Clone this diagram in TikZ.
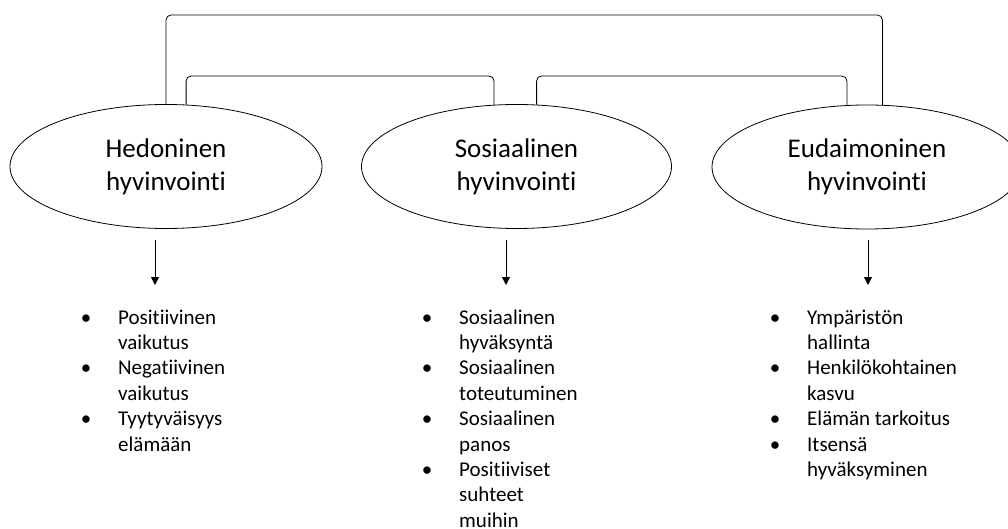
\documentclass[tikz,border=0pt]{standalone}
\usepackage{fontspec}
\setmainfont{Carlito}[Ligatures=NoCommon]
\usetikzlibrary{shapes.geometric,arrows.meta}
\begin{document}
\begin{tikzpicture}[x=1pt,y=-1pt,
  ell/.style={draw, line width=0.8pt, ellipse, minimum width=#1, minimum height=124pt, inner sep=0pt, align=center, font=\fontsize{27}{33}\selectfont},
  link/.style={draw, line width=0.8pt, rounded corners=5pt},
  arr/.style={-{Triangle[length=8pt,width=8pt]}, line width=0.8pt},
  lst/.style={anchor=base west, inner sep=0pt, font=\fontsize{21}{25.4}\selectfont}
]
\useasboundingbox (0,0) rectangle (1008,529);
\clip (0,0) rectangle (1008,529);

\node[ell=312pt] (H) at (166,166.5) {Hedoninen\\hyvinvointi};
\node[ell=310pt] (S) at (516.5,166.5) {Sosiaalinen\\hyvinvointi};
\node[ell=310pt] (E) at (867,167) {Eudaimoninen\\hyvinvointi};

\coordinate (topO) at (0,15);
\coordinate (topI) at (0,76);
\draw[link] (H.90) -- (H.90 |- topO) -- (E.76 |- topO) -- (E.76);
\draw[link] (H.72) -- (H.72 |- topI) -- (S.110 |- topI) -- (S.110);
\draw[link] (S.72) -- (S.72 |- topI) -- (E.108 |- topI) -- (E.108);

\coordinate (a1s) at (155,240); \coordinate (a1e) at (155,285);
\coordinate (a2s) at (506,240); \coordinate (a2e) at (506,285);
\coordinate (a3s) at (868,240); \coordinate (a3e) at (868,285);
\draw[arr] (a1s) -- (a1e);
\draw[arr] (a2s) -- (a2e);
\draw[arr] (a3s) -- (a3e);

\newcommand{\bul}{\makebox[32pt][l]{\makebox[0pt]{•}}}
\newcommand{\nob}{\makebox[32pt][l]{}}
\node[lst] (L1) at (86,324) {\begin{tabular}[t]{@{}l@{}l@{}}
\bul & Positiivinen\\ \nob & vaikutus\\
\bul & Negatiivinen\\ \nob & vaikutus\\
\bul & Tyytyväisyys\\ \nob & elämään
\end{tabular}};
\node[lst] (L2) at (427,324) {\begin{tabular}[t]{@{}l@{}l@{}}
\bul & Sosiaalinen\\ \nob & hyväksyntä\\
\bul & Sosiaalinen\\ \nob & toteutuminen\\
\bul & Sosiaalinen\\ \nob & panos\\
\bul & Positiiviset\\ \nob & suhteet\\ \nob & muihin
\end{tabular}};
\node[lst] (L3) at (775,324) {\begin{tabular}[t]{@{}l@{}l@{}}
\bul & Ympäristön\\ \nob & hallinta\\
\bul & Henkilökohtainen\\ \nob & kasvu\\
\bul & Elämän tarkoitus\\
\bul & Itsensä\\ \nob & hyväksyminen
\end{tabular}};
\end{tikzpicture}
\end{document}
